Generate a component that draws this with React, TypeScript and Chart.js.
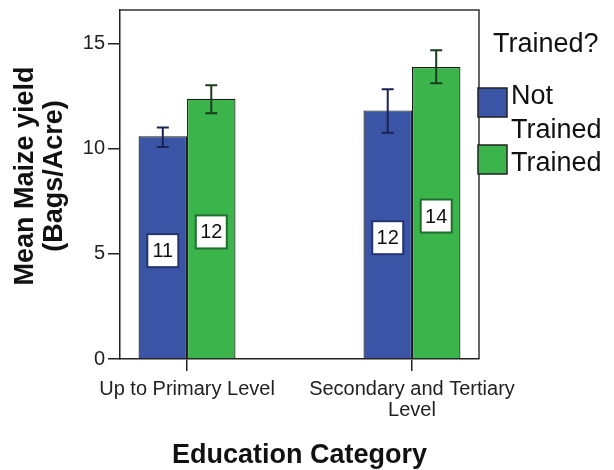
import { useEffect, useRef } from 'react';
import { Chart, registerables } from 'chart.js';

Chart.register(...registerables);

const categories = ['Up to Primary Level', 'Secondary and Tertiary Level'];
const categoryTickLines = [['Up to Primary Level'], ['Secondary and Tertiary', 'Level']];
const seriesNames = ['Not Trained', 'Trained'];
const notTrainedMean = [10.58, 11.81];
const trainedMean = [12.36, 13.87];
const notTrainedLow = [10.07, 10.75];
const notTrainedHigh = [11.0, 12.82];
const trainedLow = [11.68, 13.1];
const trainedHigh = [13.0, 14.67];
const notTrainedN = [11, 12];
const trainedN = [12, 14];
const yTicks = [0, 5, 10, 15];
const yTitleLines = ['Mean Maize yield', '(Bags/Acre)'];
const xTitle = 'Education Category';
const legendTitle = 'Trained?';

const FONT = "'Liberation Sans', Arial, sans-serif";
const BLUE = '#3a54a6';
const GREEN = '#3bb54b';

const decorPlugin = {
  id: 'decor',
  afterDatasetsDraw(chart: any) {
    const ctx = chart.ctx;
    const y = chart.scales.y;
    chart.data.datasets.forEach((ds: any, di: number) => {
      const meta = chart.getDatasetMeta(di);
      meta.data.forEach((bar: any, i: number) => {
        const x = bar.x;
        const yl = y.getPixelForValue(ds.low[i]);
        const yh = y.getPixelForValue(ds.high[i]);
        ctx.save();
        ctx.strokeStyle = ds.errColor;
        ctx.lineWidth = 2;
        ctx.beginPath();
        ctx.moveTo(x, yl);
        ctx.lineTo(x, yh);
        ctx.moveTo(x - 6, yl);
        ctx.lineTo(x + 6, yl);
        ctx.moveTo(x - 6, yh);
        ctx.lineTo(x + 6, yh);
        ctx.stroke();
        const cy = y.getPixelForValue(ds.data[i].y / 2) + 3;
        const w = 31;
        const h = 33;
        ctx.fillStyle = '#ffffff';
        ctx.fillRect(x - w / 2, cy - h / 2, w, h);
        ctx.strokeStyle = ds.boxColor;
        ctx.lineWidth = 2;
        ctx.strokeRect(x - w / 2, cy - h / 2, w, h);
        ctx.fillStyle = '#111';
        ctx.font = `20px ${FONT}`;
        ctx.textAlign = 'center';
        ctx.textBaseline = 'middle';
        ctx.fillText(String(ds.counts[i]), x, cy + 1);
        ctx.restore();
      });
    });
  },
  afterDraw(chart: any) {
    const ctx = chart.ctx;
    const a = chart.chartArea;
    ctx.save();
    ctx.strokeStyle = '#333';
    ctx.lineWidth = 1.5;
    ctx.beginPath();
    ctx.moveTo(a.left, a.top);
    ctx.lineTo(a.right, a.top);
    ctx.lineTo(a.right, a.bottom);
    ctx.stroke();

    ctx.fillStyle = '#111';
    ctx.font = `bold 27px ${FONT}`;
    ctx.textAlign = 'center';
    ctx.textBaseline = 'alphabetic';
    ctx.save();
    ctx.translate(33, 176);
    ctx.rotate(-Math.PI / 2);
    yTitleLines.forEach((line, k) => ctx.fillText(line, 0, k * 29));
    ctx.restore();

    ctx.font = `bold 27px ${FONT}`;
    ctx.fillText(xTitle, (a.left + a.right) / 2, 463);

    ctx.textAlign = 'left';
    ctx.font = `27px ${FONT}`;
    ctx.fillStyle = '#111';
    ctx.fillText(legendTitle, 493, 52);
    let baseline = 104;
    const maxW = 614 - 511;
    chart.data.datasets.forEach((ds: any, i: number) => {
      const boxTop = 88 + i * 57;
      ctx.fillStyle = ds.backgroundColor;
      ctx.fillRect(478, boxTop, 29, 29);
      ctx.strokeStyle = '#222';
      ctx.lineWidth = 1.5;
      ctx.strokeRect(478, boxTop, 29, 29);
      const words = String(ds.label).split(' ');
      const lines: string[] = [];
      let cur = '';
      words.forEach((w) => {
        const test = cur ? cur + ' ' + w : w;
        if (ctx.measureText(test).width > maxW && cur) {
          lines.push(cur);
          cur = w;
        } else cur = test;
      });
      if (cur) lines.push(cur);
      ctx.fillStyle = '#111';
      lines.forEach((l) => {
        ctx.fillText(l, 511, baseline);
        baseline += 33.5;
      });
    });
    ctx.restore();
  },
};

export default function App() {
  const ref = useRef<HTMLCanvasElement>(null);
  useEffect(() => {
    const canvas = ref.current;
    if (!canvas) return;
    const chart = new Chart(canvas, {
      type: 'bar',
      data: {
        datasets: [
          {
            label: seriesNames[0],
            data: categories.map((_, i) => ({ x: i, y: notTrainedMean[i] })),
            backgroundColor: BLUE,
            borderColor: '#1a1a1a',
            borderWidth: 1.2,
            low: notTrainedLow,
            high: notTrainedHigh,
            counts: notTrainedN,
            errColor: '#1a2352',
            boxColor: '#24346e',
          } as any,
          {
            label: seriesNames[1],
            data: categories.map((_, i) => ({ x: i, y: trainedMean[i] })),
            backgroundColor: GREEN,
            borderColor: '#1a1a1a',
            borderWidth: 1.2,
            low: trainedLow,
            high: trainedHigh,
            counts: trainedN,
            errColor: '#1a3d1c',
            boxColor: '#1f6e2c',
          } as any,
        ],
      },
      options: {
        responsive: false,
        animation: false,
        events: [],
        layout: { padding: { top: 10, right: 135, left: 0, bottom: 0 } },
        datasets: { bar: { categoryPercentage: 0.431, barPercentage: 1 } },
        plugins: { legend: { display: false }, tooltip: { enabled: false } },
        scales: {
          x: {
            type: 'linear',
            min: -0.298,
            max: 1.298,
            offset: false,
            afterBuildTicks: (s: any) => {
              s.ticks = categories.map((_, i) => ({ value: i }));
            },
            afterFit: (s: any) => {
              s.height = 111;
              s.paddingLeft = 0;
              s.paddingRight = 0;
            },
            ticks: {
              callback: (v: any) => categoryTickLines[v as number],
              font: { family: FONT, size: 20, lineHeight: 1.05 },
              color: '#222',
              padding: 8,
              autoSkip: false,
              maxRotation: 0,
            },
            grid: { drawOnChartArea: false, drawTicks: true, tickLength: 12, color: '#222', lineWidth: 1.5, offset: false },
            border: { color: '#222', width: 1.5 },
          },
          y: {
            type: 'linear',
            min: 0,
            max: 16.58,
            afterBuildTicks: (s: any) => {
              s.ticks = yTicks.map((v) => ({ value: v }));
            },
            afterFit: (s: any) => {
              s.width = 120;
              s.paddingTop = 0;
              s.paddingBottom = 0;
            },
            ticks: {
              font: { family: FONT, size: 20 },
              color: '#222',
              padding: 3,
            },
            grid: { drawOnChartArea: false, drawTicks: true, tickLength: 12, color: '#222', lineWidth: 1.5 },
            border: { color: '#222', width: 1.5 },
          },
        },
      } as any,
      plugins: [decorPlugin],
    });
    return () => chart.destroy();
  }, []);
  return (
    <div style={{ position: 'absolute', left: 0, top: 0, width: 614, height: 470, background: '#fff' }}>
      <canvas ref={ref} width={614} height={470} style={{ width: 614, height: 470, display: 'block' }} />
    </div>
  );
}
